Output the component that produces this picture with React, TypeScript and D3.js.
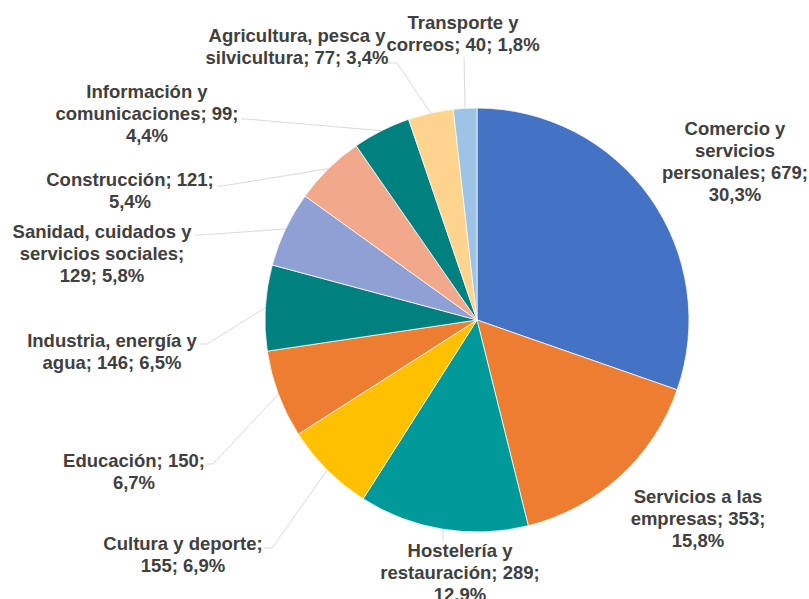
import React from "react";
import * as d3 from "d3";

const categories = [
  "Comercio y servicios personales",
  "Servicios a las empresas",
  "Hostelería y restauración",
  "Cultura y deporte",
  "Educación",
  "Industria, energía y agua",
  "Sanidad, cuidados y servicios sociales",
  "Construcción",
  "Información y comunicaciones",
  "Agricultura, pesca y silvicultura",
  "Transporte y correos",
];
const values = [679, 353, 289, 155, 150, 146, 129, 121, 99, 77, 40];
const colors = [
  "#4472C4", "#ED7D31", "#009999", "#FFC000", "#ED7D31", "#00807F",
  "#8FA1D4", "#F2A88A", "#00807F", "#FFD48C", "#9DC3E6",
];

// label layout: words per line, text center x, first baseline y, leader start points
const labelLayout = [
  { words: [2, 1, 2, 1], x: 735, y: 135, leader: null },
  { words: [3, 2, 1], x: 698, y: 503, leader: null },
  { words: [2, 2, 1], x: 460, y: 557, leader: [[443, 541]] },
  { words: [3, 2], x: 183, y: 550, leader: [[264, 548], [272, 548]] },
  { words: [2, 1], x: 134, y: 467, leader: [[205, 464], [213, 464]] },
  { words: [3, 3], x: 112, y: 347, leader: [[200, 344], [207, 344]] },
  { words: [3, 2, 2], x: 102, y: 238, leader: [[195, 235], [200, 235]] },
  { words: [2, 1], x: 130, y: 186, leader: [[217, 186], [222, 186]] },
  { words: [2, 2, 1], x: 147, y: 98, leader: [[241, 119], [246, 119]] },
  { words: [3, 3], x: 297, y: 42, leader: [[388, 63], [397, 63]] },
  { words: [2, 3], x: 463, y: 29, leader: [[464, 57]] },
];

const W = 809;
const H = 599;
const cx = 477;
const cy = 320;
const R = 212;

export default function App() {
  const total = d3.sum(values);
  const pie = d3.pie<number>().sort(null).value((d) => d);
  const arcs = pie(values);
  const arcGen = d3.arc<d3.PieArcDatum<number>>().innerRadius(0).outerRadius(R);
  const edgeGen = d3.arc<d3.PieArcDatum<number>>().innerRadius(R).outerRadius(R);
  const line = d3.line();

  return (
    <svg
      width={W}
      height={H}
      style={{ position: "absolute", left: 0, top: 0, background: "#fff" }}
      fontFamily="'Liberation Sans', Arial, sans-serif"
    >
      <g transform={`translate(${cx},${cy})`}>
        {arcs.map((a, i) => (
          <path key={i} d={arcGen(a) || ""} fill={colors[i]} stroke="#fff" strokeWidth={0.75} />
        ))}
      </g>
      {arcs.map((a, i) => {
        const lay = labelLayout[i];
        if (!lay.leader) return null;
        const [ex, ey] = edgeGen.centroid(a);
        const pts = [...lay.leader, [cx + ex, cy + ey]] as [number, number][];
        return (
          <path key={"l" + i} d={line(pts) || ""} fill="none" stroke="#D9D9D9" strokeWidth={1} />
        );
      })}
      {categories.map((c, i) => {
        const pct = ((values[i] / total) * 100).toFixed(1).replace(".", ",");
        const full = `${c}; ${values[i]}; ${pct}%`;
        const words = full.split(" ");
        const lay = labelLayout[i];
        const lines: string[] = [];
        let k = 0;
        lay.words.forEach((n) => {
          lines.push(words.slice(k, k + n).join(" "));
          k += n;
        });
        return (
          <text
            key={"t" + i}
            x={lay.x}
            y={lay.y}
            textAnchor="middle"
            fontSize={18.5}
            fontWeight="bold"
            fill="#404040"
          >
            {lines.map((ln, j) => (
              <tspan key={j} x={lay.x} dy={j === 0 ? 0 : 22}>
                {ln}
              </tspan>
            ))}
          </text>
        );
      })}
    </svg>
  );
}
